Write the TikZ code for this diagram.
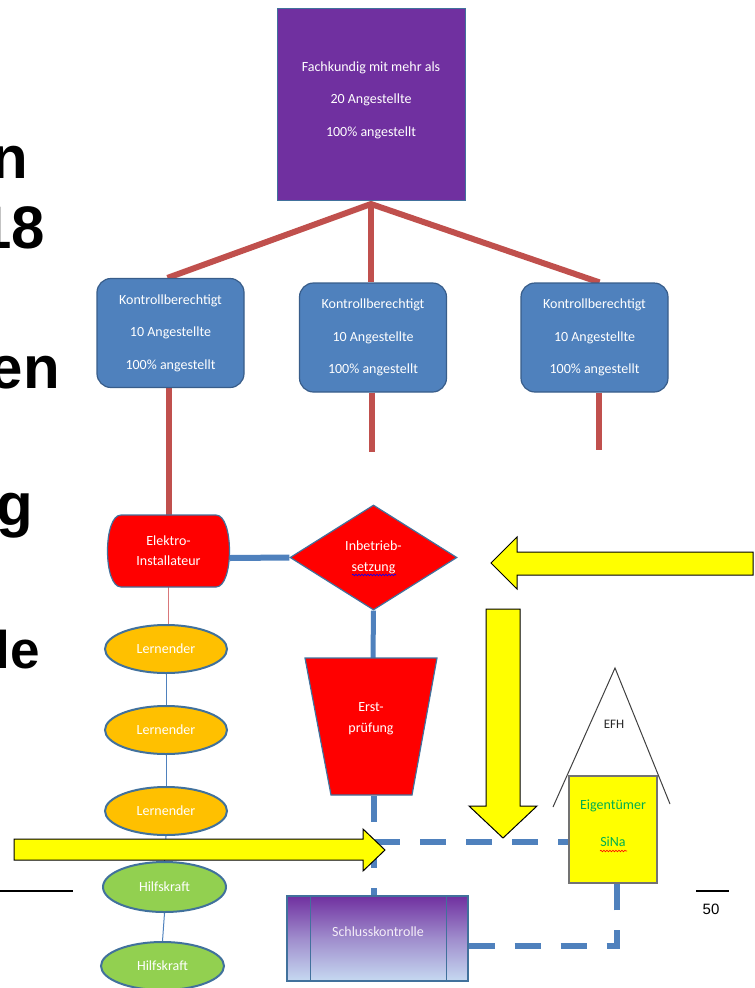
\documentclass[tikz,border=0pt]{standalone}
\usepackage{fontspec}
\setmainfont{Carlito}
\newfontfamily\arialfont{Liberation Sans}
\usetikzlibrary{shapes.geometric,decorations.pathmorphing}
\pgfdeclarelayer{bg}
\pgfsetlayers{bg,main}
\definecolor{purp}{HTML}{7030A0}
\definecolor{kblue}{HTML}{4F81BD}
\definecolor{kborder}{HTML}{385D8A}
\definecolor{sborder}{HTML}{41719C}
\definecolor{redln}{HTML}{C0504D}
\definecolor{orangef}{HTML}{FFC000}
\definecolor{greenf}{HTML}{92D050}
\definecolor{txtgreen}{HTML}{00B050}
\definecolor{ltblue}{HTML}{C6D9F1}
\definecolor{yell}{HTML}{FFFF00}
\definecolor{roofgray}{HTML}{404040}
\definecolor{thinred}{HTML}{D9777A}
\begin{document}
\begin{tikzpicture}[x=1pt,y=-1pt,
  wtxt/.style={text=white, align=center, font=\fontsize{14}{17}\selectfont, inner sep=0pt},
  kbox/.style={rectangle, rounded corners=14pt, minimum width=147pt, minimum height=109pt, fill=kblue, draw=kborder, line width=1.2pt, text=white, align=center, font=\fontsize{14}{32.5}\selectfont, inner sep=0pt},
  redconn/.style={draw=redln, line width=6pt},
  blueconn/.style={draw=kblue, line width=6pt},
  dashconn/.style={draw=kblue, line width=6.5pt, dash pattern=on 26pt off 20pt},
  thinblue/.style={draw=kblue, line width=1pt},
  redshape/.style={fill=red, draw=sborder, line width=1.2pt},
  oval/.style={ellipse, minimum width=122pt, minimum height=48pt, inner sep=0pt, draw=sborder, line width=2pt, text=white, font=\fontsize{14}{17}\selectfont},
  yarrow/.style={fill=yell, draw=black, line width=1pt},
  bigtxt/.style={anchor=base east, inner sep=0pt, font=\arialfont\bfseries\fontsize{60}{60}\selectfont}]
\useasboundingbox (0,0) rectangle (755,988);
\clip (0,0) rectangle (755,988);

% left slide text (cut off)
\node[bigtxt] (t1) at (28,178) {n};
\node[bigtxt] (t2) at (45,248) {18};
\node[bigtxt] (t3) at (60,388) {en};
\node[bigtxt] (t4) at (33,525) {g};
\node[bigtxt, font=\arialfont\bfseries\fontsize{53}{53}\selectfont] (t5) at (40,668) {le};

% top box
\node[rectangle, minimum width=188pt, minimum height=192pt, fill=purp, draw=sborder, line width=1pt] (fach) at (371,104) {};
\node[wtxt, font=\fontsize{14}{32.5}\selectfont] (fachT) at (371,100) {Fachkundig mit mehr als\\20 Angestellte\\100\% angestellt};

% Kontrollberechtigt
\node[kbox] (k1) at (170.5,333) {Kontrollberechtigt\\10 Angestellte\\100\% angestellt};
\node[kbox] (k2) at (373,337.5) {Kontrollberechtigt\\10 Angestellte\\100\% angestellt};
\node[kbox] (k3) at (594.5,337.5) {Kontrollberechtigt\\10 Angestellte\\100\% angestellt};

% Elektro-Installateur
\path[redshape] (121,515) -- (216,515) .. controls (234,515) and (234,587) .. (216,587) -- (121,587) .. controls (103,587) and (103,515) .. (121,515) -- cycle;
\node[wtxt, font=\fontsize{14}{20}\selectfont, minimum width=123pt, minimum height=72pt] (elektro) at (168.5,551) {Elektro-\\Installateur};

% Inbetriebsetzung
\node[diamond, minimum width=167pt, minimum height=105pt, inner sep=0pt, redshape, text=white, align=center, font=\fontsize{14}{21}\selectfont] (ins) at (373.5,557.5) {Inbetrieb-\\setzung};
\draw[blue, line width=0.6pt, decorate, decoration={snake, amplitude=0.8pt, segment length=3pt}] (352,575) -- (396,575);

% Erstpruefung
\path[redshape] (305,658) -- (437,658) -- (412,795) -- (331,795) -- cycle;
\node[wtxt, font=\fontsize{14}{21}\selectfont] (erst) at (371,718.5) {Erst-\\prüfung};
\coordinate (ersttop) at (373,658);
\coordinate (erstbot) at (374,796);

% ellipses
\node[oval, fill=orangef] (L1) at (166,649) {Lernender};
\node[oval, fill=orangef] (L2) at (166,730) {Lernender};
\node[oval, fill=orangef] (L3) at (166,811) {Lernender};
\node[oval, fill=greenf, minimum width=123pt, minimum height=50pt] (H1) at (164.5,887) {Hilfskraft};
\node[oval, fill=greenf, minimum width=123pt] (H2) at (162.5,966) {Hilfskraft};

% Schlusskontrolle
\node[rectangle, minimum width=181pt, minimum height=85pt, draw=sborder, line width=1.2pt, top color=purp, bottom color=ltblue, middle color=purp!45!ltblue] (schluss) at (377.5,938.5) {};
\draw[draw=sborder, line width=1.2pt] ([xshift=24pt]schluss.north west) -- ([xshift=24pt]schluss.south west);
\draw[draw=sborder, line width=1.2pt] ([xshift=-22pt]schluss.north east) -- ([xshift=-22pt]schluss.south east);
\node[wtxt, text=white!92!purp] (schlussT) at (378,932) {Schlusskontrolle};

% EFH
\coordinate (roofL) at (553,807);
\coordinate (roofTop) at (615,668);
\coordinate (roofR) at (670,804);
\draw[roofgray, line width=1pt] (roofL) -- (roofTop) -- (roofR);
\node[font=\fontsize{13}{15}\selectfont, text=black!85, inner sep=0pt] (efh) at (614,724) {EFH};
\node[rectangle, minimum width=88pt, minimum height=107pt, fill=yell, draw=black!55, line width=1.5pt] (eig) at (613,829.5) {};
\node[font=\fontsize{14}{37}\selectfont, text=txtgreen, align=center, inner sep=0pt] (eigT) at (613,823.5) {Eigentümer\\SiNa};
\draw[red, line width=0.6pt, decorate, decoration={snake, amplitude=0.8pt, segment length=3pt}] (600,851) -- (627,851);
\coordinate (eigin) at (569,842);

% connectors
\begin{pgfonlayer}{bg}
\coordinate (apex) at (371,204);
\draw[redconn] ([xshift=-3pt]k1.north) -- (apex) -- ([xshift=5pt]k3.north);
\draw[redconn] (apex) -- (apex |- k2.north);
\draw[redconn] ([xshift=-1.5pt]k1.south) -- ([xshift=-1.5pt]k1.south |- elektro.north);
\coordinate (k2end) at (372,452);
\draw[redconn] (k2.south -| k2end) -- (k2end);
\coordinate (k3end) at (599,450);
\draw[redconn] (k3.south -| k3end) -- (k3end);
\draw[blueconn] ([yshift=-7pt]elektro.east) -- (ins.west);
\draw[draw=kblue, line width=5pt] (ins.south) -- (ersttop);
\draw[dashconn] (erstbot) |- (eigin);
\draw[dashconn] (erstbot) -- (erstbot |- schluss.north);
\draw[dashconn] ([yshift=-7.5pt]schluss.east) -| ([xshift=4pt]eig.south);
\draw[draw=thinred, line width=1pt] (elektro.south) -- (elektro.south |- L1.north);
\draw[thinblue] (L1.south) -- (L2.north);
\draw[thinblue] (L2.south) -- (L3.north);
\draw[thinblue] (L3.south) -- (H1.north);
\draw[thinblue] (H1.south) -- (H2.north);
\end{pgfonlayer}

% yellow arrows
\path[yarrow] (753,552) -- (517,552) -- (517,537) -- (491,563) -- (517,589) -- (517,575) -- (753,575) -- cycle;
\path[yarrow] (486,609) -- (520,609) -- (520,806) -- (537,806) -- (503,838) -- (469,806) -- (486,806) -- cycle;
\path[yarrow] (14,839) -- (363,839) -- (363,829) -- (385,850) -- (363,871) -- (363,860) -- (14,860) -- cycle;

% footer
\coordinate (fl1) at (0,891);
\coordinate (fl2) at (73,891);
\draw[black, line width=2pt] (fl1) -- (fl2);
\coordinate (fr1) at (696,891);
\coordinate (fr2) at (729,891);
\draw[black, line width=2pt] (fr1) -- (fr2);
\node[font=\arialfont\fontsize{15}{15}\selectfont, inner sep=0pt] (pg) at (711,909) {50};
\end{tikzpicture}
\end{document}
